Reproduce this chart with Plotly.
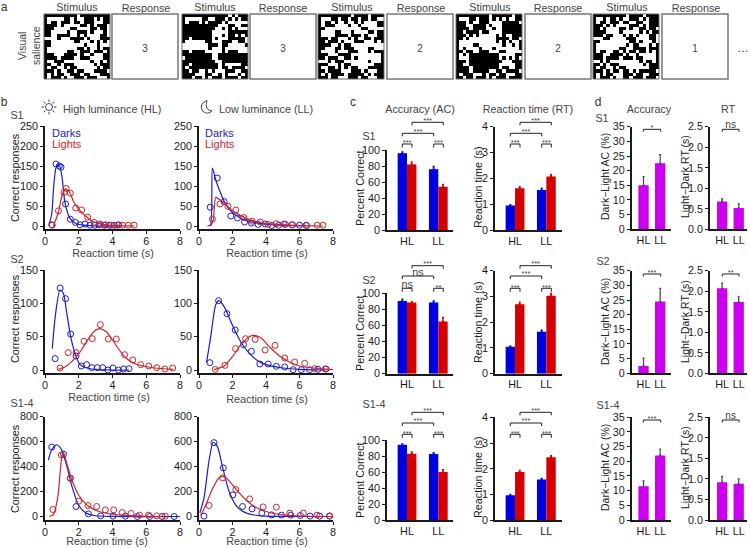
import plotly.graph_objects as go

W, H = 750, 548
FONT = "Liberation Sans"
BLUE, RED, MAG = "#0000e0", "#d40000", "#cc00ee"
LBLUE, LRED = "#1c1cc8", "#c8242c"
DARK, GRAY = "#1a1a1a", "#444444"

# ---------- panel a : stimulus patterns (# = black) ----------
stim1 = [
"##########.#########","#.....##.#..###.#.##","#.##.###.##.###...##","####.#.....##.#.###.",
"###.....##....##.##.","##.....#..###.#...#.","##..####..#.#....##.","....#...####.#...###",
"##.......##...#.#.#.","##..........#...#...","#.........##.#..#.##","#......##..###.###.#",
"###...####.#..#...##","####.####..###....##","#..###........#..#.#","##..#.###......#.###",
"#.##..#.##......#.##","###.#..##.##...####.","#.#.##..###.##...###","#.###.#..###.###...#"]
stim2 = [
"##############.#.###","#.....##..###.#.#.##","#.###.#.####.#......","###########...##..##",
"##########..#.#.#...","#########.....######","#########...#.##.#.#","##.######.#...#####.",
"#......##...###..##.","........###.##.....#","........#...#.......","##.####.....#.###...",
"#########..#########",".########..#########","##########..########","##.########.#.....##",
"#.#########.##.####.","##.##..#.#...###..##","####...##..#.#...#.#","###.##.#.###.####.##"]
stim3 = [
"##########.####.####","#...##.##.##.##.##..","#.##.#..#..#.#....##","#.###....#..#.....##",
"##...........##.....","#....##...#....##.##","#....####.###.#...##","###.##...#.#..##.###",
"##.###.#...###...#.#","####..#.##..........","##...##.###....##...","#....#...###...#.###",
"###...####.........#","##.###..##.#.......#","...#.###.......#...#","###...#.##.......###",
"#..##.#.#.##...#####","##.####...###.#...##","#.#.####.#####.#.###","###.##...###.##...##"]
stim4 = [
"##########.######.##","#...##.###.#.#.#..##","###.#..###....#####.","###..####.#...######",
"####.####..#..######","##.####.##....######","###.#.#.....#.#..###","##.#........####.##.",
"#...........#.#.#..#","#....##.......#..#.#","#.#....#...#.......#","##.##..###...##.....",
"#.#.#########.....##","#...#########.#.#.#.","###.##########...###","##..#########.....##",
"####.########.##..##","####.#####..##.####.","#.###...#.##.##...##","##.##.###.#.###.####"]
stim5 = [
"##########.####.####","#..#.##.#..###.#.###","#.##.###.##..##..###","###.#.#....###.#.###",
"##.#....##.#..##.##.","####....#.....#.#.##","###.##...#.#.#...##.","...##.....###....##.",
"##.........##.#...#.","#.........#.##...#.#","#.......##..####.###","#.##..##.#.##.##.#.#",
"###..####.#..#.....#","###.####.###.##....#","..#.#.........#.##.#","##.#.###.......#.###",
"#.##..#.##.......###","###.#.##.##.#.#####.","#.#.##...###.##..###","#.###.#..##.###.###."]
stim_patterns = [stim1, stim2, stim3, stim4, stim5]
response_digits = ["3", "3", "2", "2", "1"]

# ---------- panel b : reaction time distributions ----------
s1_hl_dark_x = [0.4, 0.65, 0.85, 0.95, 1.22, 1.5, 1.8, 2.07, 2.37, 2.67, 2.95, 3.2, 3.5, 3.8, 4.1, 4.37]
s1_hl_dark_y = [3, 155, 150, 147, 55, 17, 9, 3, 5, 2, 2, 3, 2, 2, 2, 3]
s1_hl_dark_cx = [0.25, 0.4, 0.5, 0.65, 0.83, 1.0, 1.19, 1.48, 1.88, 2.3, 3.0, 4.4]
s1_hl_dark_cy = [5, 30, 90, 145, 155, 125, 57, 19, 5, 2, 0, 0]
s1_hl_light_x = [0.43, 0.8, 1.13, 1.25, 1.5, 1.82, 2.17, 2.53, 2.9, 3.25, 3.6, 3.93, 4.27, 4.6, 4.94, 5.28]
s1_hl_light_y = [2, 38, 84, 94, 82, 45, 40, 22, 9, 5, 3, 2, 2, 2, 2, 2]
s1_hl_light_cx = [0.5, 0.8, 1.0, 1.2, 1.45, 1.7, 2.0, 2.4, 2.8, 3.2, 3.6, 4.2, 5.3]
s1_hl_light_cy = [0, 35, 75, 93, 85, 60, 42, 25, 12, 6, 3, 1, 0]

s1_ll_dark_x = [0.67, 1.09, 1.5, 1.9, 2.3, 2.72, 3.13, 3.53, 3.95, 4.35, 4.76, 5.16, 5.58, 6.0, 6.4]
s1_ll_dark_y = [47, 120, 61, 25, 20, 10, 7, 4, 5, 1, 2, 4, 3, 2, 2]
s1_ll_dark_cx = [0.5, 0.68, 0.8, 1.0, 1.2, 1.5, 1.8, 2.2, 2.8, 3.5, 4.5, 6.4]
s1_ll_dark_cy = [0, 2, 145, 115, 92, 62, 42, 27, 14, 7, 3, 1]
s1_ll_light_x = [0.8, 1.25, 1.73, 2.2, 2.68, 3.17, 3.65, 4.13, 4.6, 5.05, 5.55, 6.43, 7.06, 7.4]
s1_ll_light_y = [17, 55, 49, 40, 21, 12, 10, 4, 6, 5, 3, 1, 2, 2]
s1_ll_light_cx = [0.7, 0.85, 1.0, 1.15, 1.5, 2.0, 2.5, 3.0, 3.5, 4.0, 5.0, 6.0, 7.4]
s1_ll_light_cy = [0, 15, 72, 68, 58, 38, 26, 16, 10, 6, 3, 1, 0]

s2_hl_dark_x = [0.6, 0.9, 1.22, 1.52, 1.84, 2.15, 2.47, 2.77, 3.1, 3.42, 3.72, 4.03, 4.35, 4.66, 4.98]
s2_hl_dark_y = [17, 123, 107, 54, 21, 6, 8, 3.5, 3.5, 3.5, 0, 3, 0, 1.5, 2]
s2_hl_dark_cx = [0.43, 0.63, 0.89, 1.09, 1.28, 1.52, 1.78, 2.07, 2.47, 3, 4, 5]
s2_hl_dark_cy = [32, 85, 120, 115, 87, 50, 25, 8, 3, 1, 0, 0]
s2_hl_light_x = [0.89, 1.38, 1.84, 2.31, 2.8, 3.28, 3.75, 4.23, 4.72, 5.2, 5.67, 6.15, 6.62, 7.1, 7.57]
s2_hl_light_y = [3, 26, 26, 43, 47, 68, 46.5, 46.5, 23, 15, 8, 6, 3.5, 1.5, 3]
s2_hl_light_cx = [0.8, 1.2, 1.6, 2, 2.4, 2.8, 3.2, 3.6, 4, 4.4, 4.8, 5.2, 5.8, 6.5, 7.6]
s2_hl_light_cy = [1, 5, 13, 24, 40, 55, 62, 58, 45, 30, 18, 11, 6, 3, 1]

s2_ll_dark_x = [0.65, 1.17, 1.67, 2.16, 2.66, 3.13, 3.63, 4.13, 4.62, 5.12, 5.62, 6.11, 6.6, 7.1, 7.58]
s2_ll_dark_y = [11, 104, 84.5, 60, 38, 28, 9, 9, 5.5, 4.5, 0.5, 0.5, 0.5, 1, 1.5]
s2_ll_dark_cx = [0.45, 0.7, 1.0, 1.2, 1.5, 2, 2.5, 3, 3.5, 4, 5, 6, 7.6]
s2_ll_dark_cy = [11, 50, 98, 104, 95, 67, 42, 25, 14, 8, 3, 1, 0]
s2_ll_light_x = [0.97, 1.55, 2.18, 2.78, 3.35, 3.95, 4.54, 5.12, 5.71, 6.31, 6.9, 7.54]
s2_ll_light_y = [1, 7, 32, 47, 46, 30, 37, 18, 12, 10, 2, 1.5]
s2_ll_light_cx = [0.9, 1.5, 2, 2.5, 3, 3.3, 3.7, 4.2, 4.8, 5.4, 6, 6.8, 8]
s2_ll_light_cy = [0.5, 6, 20, 38, 50, 52, 48, 35, 21, 12, 6, 3, 0.5]

all_hl_dark_x = [0.4, 1.1, 1.5, 1.84, 2.57, 3.3, 4.03, 4.76, 5.47, 6.2, 6.94, 7.65]
all_hl_dark_y = [557, 500, 307, 80, 21, 5, 3, 3, 0, 0, 0, 0]
all_hl_dark_cx = [0.2, 0.4, 0.7, 1.0, 1.3, 1.6, 2, 2.4, 3, 4, 8]
all_hl_dark_cy = [453, 535, 575, 530, 400, 240, 90, 30, 6, 1, 0]
all_hl_light_x = [0.47, 0.97, 1.5, 2, 2.55, 3.06, 3.58, 4.07, 4.58, 5.1, 5.6, 6.13, 6.62, 7.13]
all_hl_light_y = [56, 493, 307, 123, 88, 80, 53, 53, 32, 24, 11, 11, 5, 3]
all_hl_light_cx = [0.25, 0.5, 0.75, 1.0, 1.1, 1.3, 1.6, 2, 2.5, 3, 3.5, 4, 5, 6, 7.1]
all_hl_light_cy = [0, 15, 150, 480, 510, 420, 290, 170, 90, 50, 30, 18, 7, 2, 0]

all_ll_dark_x = [0.3, 0.89, 1.45, 2.02, 2.6, 3.17, 3.75, 4.33, 4.92, 5.48, 6.05, 6.63, 7.2, 7.8]
all_ll_dark_y = [3, 592, 390, 173, 80, 61, 27, 13, 11, 11, 8, 3, 3, 3]
all_ll_dark_cx = [0.05, 0.3, 0.6, 0.85, 1.1, 1.4, 1.8, 2.2, 2.7, 3.3, 4, 8]
all_ll_dark_cy = [30, 150, 450, 595, 560, 400, 200, 90, 35, 12, 3, 0]
all_ll_light_x = [0.6, 1.41, 2.2, 3.02, 3.83, 4.62, 5.42, 6.23, 7.04, 7.8]
all_ll_light_y = [88, 309, 216, 141, 77, 75, 27, 27, 11, 5]
all_ll_light_cx = [0.1, 0.4, 0.8, 1.2, 1.5, 1.9, 2.4, 3, 3.6, 4.2, 5, 6, 8]
all_ll_light_cy = [10, 90, 220, 310, 320, 270, 190, 110, 60, 32, 13, 4, 0]

# ---------- panel c : bars ----------
conditions = ["HL", "LL"]
s1_ac_dark, s1_ac_dark_err, s1_ac_light, s1_ac_light_err = [96, 76], [1.5, 3.5], [82, 54], [3, 3]
s1_rt_dark, s1_rt_dark_err, s1_rt_light, s1_rt_light_err = [0.95, 1.55], [0.03, 0.07], [1.62, 2.07], [0.05, 0.08]
s2_ac_dark, s2_ac_dark_err, s2_ac_light, s2_ac_light_err = [90.5, 88.5], [2, 2], [88.5, 65], [1, 5]
s2_rt_dark, s2_rt_dark_err, s2_rt_light, s2_rt_light_err = [1.05, 1.63], [0.03, 0.06], [2.7, 3.03], [0.07, 0.08]
all_ac_dark, all_ac_dark_err, all_ac_light, all_ac_light_err = [94, 82.5], [1, 1.5], [83, 60], [2, 3]
all_rt_dark, all_rt_dark_err, all_rt_light, all_rt_light_err = [0.97, 1.58], [0.03, 0.04], [1.88, 2.45], [0.05, 0.06]

# ---------- panel d : differences ----------
s1_dac, s1_dac_err, s1_drt, s1_drt_err = [15, 22.5], [3, 3], [0.68, 0.52], [0.06, 0.1]
s2_dac, s2_dac_err, s2_drt, s2_drt_err = [2.5, 24.5], [2.7, 4.5], [2.07, 1.74], [0.13, 0.12]
all_dac, all_dac_err, all_drt, all_drt_err = [11.5, 22], [1.8, 2.2], [0.92, 0.88], [0.14, 0.12]

# ---------- helpers ----------
fig = go.Figure()
layout = {}
shapes, annots = [], []
labels = []
axis_n = [0]


def px(x):
    return x / W


def py(y):
    return 1 - y / H


def new_axes(x0, x1, ytop, ybot, xaxis, yaxis):
    axis_n[0] += 1
    n = axis_n[0]
    sfx = "" if n == 1 else str(n)
    xaxis = dict(domain=[px(x0), px(x1)], anchor="y" + sfx, **xaxis)
    yaxis = dict(domain=[py(ybot), py(ytop)], anchor="x" + sfx, **yaxis)
    layout["xaxis" + sfx] = xaxis
    layout["yaxis" + sfx] = yaxis
    return "x" + sfx, "y" + sfx


def T(x, y, text, size=10.8, color=GRAY, anchor="center", angle=0):
    if angle:
        annots.append(dict(x=px(x), y=py(y), xref="paper", yref="paper", text=text, showarrow=False,
                           xanchor="center", yanchor="middle", textangle=angle,
                           font=dict(size=size, color=color, family=FONT)))
    else:
        labels.append((x, y, text, size, color, anchor))


def bracket(x0, x1, ytop, leg, label, lab_size=7.5, lab_dy=3):
    p = f"M {px(x0)} {py(ytop + leg)} L {px(x0)} {py(ytop)} L {px(x1)} {py(ytop)} L {px(x1)} {py(ytop + leg)}"
    shapes.append(dict(type="path", path=p, xref="paper", yref="paper", line=dict(color="#222", width=1)))
    T((x0 + x1) / 2, ytop - lab_dy - 2.5, label, size=lab_size, color=GRAY)


AX = dict(showline=True, linecolor=DARK, linewidth=1.5, showgrid=False, zeroline=False, tickangle=0,
          tickfont=dict(size=10.8, color=DARK, family=FONT), tickcolor=DARK, tickwidth=1.2)
XSHIFT = dict(ticklabelstandoff=-2)

# ---------- panel a ----------
stim_left = [44, 182, 318, 456, 593]
resp_left = [112, 250, 387, 525, 662]
stim_lab = [77, 215, 352, 490, 627]
resp_lab = [146, 283, 421, 558, 696]
for i, pat in enumerate(stim_patterns):
    xa, ya = new_axes(stim_left[i], stim_left[i] + 66, 14, 79,
                      dict(range=[-0.5, 19.5], visible=False),
                      dict(range=[19.5, -0.5], visible=False))
    z = [[0 if c == "#" else 1 for c in r.ljust(20, ".")[:20]] for r in pat]
    fig.add_trace(go.Heatmap(z=z, xaxis=xa, yaxis=ya, showscale=False, hoverinfo="skip", zmin=0, zmax=1,
                             colorscale=[[0, "black"], [1, "white"]]))
    shapes.append(dict(type="rect", xref="paper", yref="paper", x0=px(stim_left[i]), x1=px(stim_left[i] + 66),
                       y0=py(14), y1=py(79), line=dict(color="#666", width=1)))
    shapes.append(dict(type="rect", xref="paper", yref="paper", x0=px(resp_left[i]), x1=px(resp_left[i] + 66),
                       y0=py(14), y1=py(79), line=dict(color="#777", width=1.5)))
    T(resp_left[i] + 33, 46.5, response_digits[i], size=10, color=GRAY)
    T(stim_lab[i], 5, "Stimulus", size=10.8)
    T(resp_lab[i], 6, "Response", size=10.8)
T(29, 46, "Visual<br>salience", size=10.5, angle=-90)
T(743, 46, "...", size=13, color="#555")
T(4, 5, "a", size=12, color="#333")


# ---------- panel b ----------
def rt_panel(x0, x1, ytop, ybot, ymin, ymax, dtick, data):
    xa, ya = new_axes(x0, x1, ytop, ybot,
                      dict(range=[0, 8], tickvals=[0, 2, 4, 6, 8], ticks="outside", ticklen=3, **XSHIFT, **AX),
                      dict(range=[ymin, ymax], tick0=0, dtick=dtick, ticks="outside", ticklen=3, **AX))
    for (sx, sy, cx, cy), col in zip(data, (LBLUE, LRED)):
        fig.add_trace(go.Scatter(x=cx, y=cy, xaxis=xa, yaxis=ya, mode="lines", hoverinfo="skip",
                                 line=dict(color=col, width=1.2, shape="spline", smoothing=0.7)))
        fig.add_trace(go.Scatter(x=sx, y=sy, xaxis=xa, yaxis=ya, mode="markers", hoverinfo="skip", cliponaxis=False,
                                 marker=dict(symbol="circle-open", size=6, color=col, line=dict(width=1, color=col))))


L0, L1, R0, R1 = 45, 180, 199, 333
rt_panel(L0, L1, 126, 229, -7.5, 250, 50,
         [(s1_hl_dark_x, s1_hl_dark_y, s1_hl_dark_cx, s1_hl_dark_cy),
          (s1_hl_light_x, s1_hl_light_y, s1_hl_light_cx, s1_hl_light_cy)])
rt_panel(R0, R1, 126, 229, -7.5, 250, 50,
         [(s1_ll_dark_x, s1_ll_dark_y, s1_ll_dark_cx, s1_ll_dark_cy),
          (s1_ll_light_x, s1_ll_light_y, s1_ll_light_cx, s1_ll_light_cy)])
rt_panel(L0, L1, 270, 373, -4.5, 150, 50,
         [(s2_hl_dark_x, s2_hl_dark_y, s2_hl_dark_cx, s2_hl_dark_cy),
          (s2_hl_light_x, s2_hl_light_y, s2_hl_light_cx, s2_hl_light_cy)])
rt_panel(R0, R1, 270, 373, -4.5, 150, 50,
         [(s2_ll_dark_x, s2_ll_dark_y, s2_ll_dark_cx, s2_ll_dark_cy),
          (s2_ll_light_x, s2_ll_light_y, s2_ll_light_cx, s2_ll_light_cy)])
rt_panel(L0, L1, 416.7, 520, -28, 800, 200,
         [(all_hl_dark_x, all_hl_dark_y, all_hl_dark_cx, all_hl_dark_cy),
          (all_hl_light_x, all_hl_light_y, all_hl_light_cx, all_hl_light_cy)])
rt_panel(R0, R1, 416.7, 520, -28, 800, 200,
         [(all_ll_dark_x, all_ll_dark_y, all_ll_dark_cx, all_ll_dark_cy),
          (all_ll_light_x, all_ll_light_y, all_ll_light_cx, all_ll_light_cy)])

T(4, 100, "b", size=12, color="#333")
T(17, 113, "S1", size=10.8)
T(63, 107, "High luminance (HL)", anchor="left")
T(219, 107, "Low luminance (LL)", anchor="left")
T(17, 257, "S2", size=10.8)
T(22, 401, "S1-4", size=10.8)
for x_ in (52, 205):
    T(x_, 131.5, "Darks", size=11, color=LBLUE, anchor="left")
    T(x_, 142, "Lights", size=11, color=LRED, anchor="left")
for y_ in (178, 319, 469):
    T(15, y_, "Correct responses", size=10.8, color="#222", angle=-90)
T(113, 251, "Reaction time (s)")
T(267, 251, "Reaction time (s)")
T(109, 395, "Reaction time (s)")
T(267, 397, "Reaction time (s)")
T(107, 539, "Reaction time (s)")
T(267, 539, "Reaction time (s)")

# sun icon
sx_, sy_ = 49, 107
shapes.append(dict(type="circle", xref="paper", yref="paper", x0=px(sx_ - 3.5), x1=px(sx_ + 3.5),
                   y0=py(sy_ + 3.5), y1=py(sy_ - 3.5), line=dict(color="#444", width=1)))
for dx, dy in ((0, -1), (0.7, -0.7), (1, 0), (0.7, 0.7), (0, 1), (-0.7, 0.7), (-1, 0), (-0.7, -0.7)):
    shapes.append(dict(type="line", xref="paper", yref="paper", x0=px(sx_ + 5 * dx), x1=px(sx_ + 7.5 * dx),
                       y0=py(sy_ + 5 * dy), y1=py(sy_ + 7.5 * dy), line=dict(color="#444", width=1)))
# moon icon
mx, my = 207, 107
shapes.append(dict(type="path", xref="paper", yref="paper", line=dict(color="#444", width=1),
                   path=(f"M {px(mx)} {py(my - 6.5)} Q {px(mx - 9)} {py(my - 3)} {px(mx - 4)} {py(my + 4.5)} "
                         f"Q {px(mx + 1)} {py(my + 8)} {px(mx + 5)} {py(my + 4)} "
                         f"Q {px(mx - 3)} {py(my + 3)} {px(mx)} {py(my - 6.5)} Z")))


# ---------- panel c ----------
def pair_bars(x0, x1, ytop, ybot, ymax, dtick, dark, dark_err, light, light_err, xlo, xhi):
    xa, ya = new_axes(x0, x1, ytop, ybot,
                      dict(type="category", categoryarray=conditions, range=[xlo, xhi], ticks="", **AX),
                      dict(range=[0, ymax], tick0=0, dtick=dtick, ticks="outside", ticklen=3, **AX))
    for vals, errs, col in ((dark, dark_err, BLUE), (light, light_err, RED)):
        fig.add_trace(go.Bar(x=conditions, y=vals, xaxis=xa, yaxis=ya, marker=dict(color=col, line=dict(width=0)),
                             hoverinfo="skip", error_y=dict(type="data", symmetric=False, array=errs,
                                                            arrayminus=[0, 0], color=col, thickness=1.5, width=1)))


def c_brackets(xl, y_inner, y_mid, y_top, left_lab="***", mid_lab="***", top_lab="***", right_lab="***"):
    a, b_, c_, d_ = xl, xl + 9.7, xl + 31.4, xl + 41
    ls = 7.5 if left_lab == "***" else 10.8
    bracket(a, b_, y_inner, 3.5, left_lab, lab_size=ls, lab_dy=1 if ls < 8 else 3.5)
    bracket(c_, d_, y_inner, 3.5, right_lab, lab_size=7.5, lab_dy=1)
    ms = 7.5 if mid_lab == "***" else 10.8
    bracket(a, c_, y_mid, 3, mid_lab, lab_size=ms, lab_dy=2 if ms < 8 else 3.5)
    bracket(b_, d_, y_top, 3, top_lab, lab_size=7.5, lab_dy=2)


AC_X, RT_X = (387, 453), (495, 562)
pair_bars(*AC_X, 150, 230, 100, 20, s1_ac_dark, s1_ac_dark_err, s1_ac_light, s1_ac_light_err, -0.64, 1.47)
pair_bars(*RT_X, 126.7, 230, 4, 1, s1_rt_dark, s1_rt_dark_err, s1_rt_light, s1_rt_light_err, -0.64, 1.5)
pair_bars(*AC_X, 293.3, 373.7, 100, 20, s2_ac_dark, s2_ac_dark_err, s2_ac_light, s2_ac_light_err, -0.64, 1.47)
pair_bars(*RT_X, 270.7, 373.7, 4, 1, s2_rt_dark, s2_rt_dark_err, s2_rt_light, s2_rt_light_err, -0.64, 1.5)
pair_bars(*AC_X, 440, 520.3, 100, 20, all_ac_dark, all_ac_dark_err, all_ac_light, all_ac_light_err, -0.64, 1.47)
pair_bars(*RT_X, 417.3, 520.3, 4, 1, all_rt_dark, all_rt_dark_err, all_rt_light, all_rt_light_err, -0.64, 1.5)

c_brackets(402.3, 144, 133.3, 122.3)
c_brackets(510.3, 144, 133.3, 122.3)
c_brackets(402.3, 288.3, 276, 265.7, left_lab="ns", right_lab="**", mid_lab="ns")
c_brackets(510.3, 288.3, 276, 265.7)
c_brackets(402.3, 434.3, 423, 412.3)
c_brackets(510.3, 434.3, 423, 412.3)

T(353, 100, "c", size=12, color="#333")
T(420, 107, "Accuracy (AC)")
T(528, 107, "Reaction time (RT)")
T(369, 134, "S1")
T(369, 278, "S2")
T(374, 402, "S1-4")
for y_ in (188, 333, 480):
    T(360, y_, "Percent Correct", color="#222", angle=-90)
for y_ in (187, 322, 477):
    T(478, y_, "Reaction time (s)", color="#222", angle=-90)


# ---------- panel d ----------
def diff_bars(x0, x1, ytop, ybot, ymax, dtick, vals, errs, xlo, xhi, fmt=None):
    ytick = dict(range=[0, ymax], tick0=0, dtick=dtick, ticks="outside", ticklen=3, **AX)
    if fmt:
        ytick["tickformat"] = fmt
    xa, ya = new_axes(x0, x1, ytop, ybot,
                      dict(type="category", categoryarray=conditions, range=[xlo, xhi], ticks="", **AX), ytick)
    fig.add_trace(go.Bar(x=conditions, y=vals, width=0.62, xaxis=xa, yaxis=ya, hoverinfo="skip",
                         marker=dict(color=MAG, line=dict(width=0)),
                         error_y=dict(type="data", symmetric=False, array=errs, arrayminus=[0, 0],
                                      color="#4a3a55", thickness=1.2, width=1)))


DA, DR = (631.7, 671), (710, 747)
for (yt, yb), ac, ace, rt, rte in (((126.7, 229.3), s1_dac, s1_dac_err, s1_drt, s1_drt_err),
                                   ((270.7, 373.3), s2_dac, s2_dac_err, s2_drt, s2_drt_err),
                                   ((417.3, 520), all_dac, all_dac_err, all_drt, all_drt_err)):
    diff_bars(*DA, yt, yb, 35, 5, ac, ace, -0.71, 1.65)
    diff_bars(*DR, yt, yb, 2.5, 0.5, rt, rte, -0.73, 1.5, fmt=".1f")

bracket(643.3, 660.7, 129.3, 2.5, "*", lab_dy=2)
bracket(722.3, 739, 129.3, 2.5, "ns", lab_size=10, lab_dy=4)
bracket(643.3, 660.7, 274, 2.5, "***", lab_dy=1)
bracket(722.3, 739, 274, 2.5, "**", lab_dy=1)
bracket(643.3, 660.7, 420, 2.5, "***", lab_dy=1)
bracket(722.3, 739, 420, 2.5, "ns", lab_size=10, lab_dy=4)

T(598, 100, "d", size=12, color="#333")
T(649, 107, "Accuracy")
T(728, 107, "RT")
T(602, 116, "S1")
T(603, 259, "S2")
T(608, 403, "S1-4")
for y_ in (177, 322, 468):
    T(605, y_, "Dark\u2212Light AC (%)", size=10.5, color="#222", angle=-90)
    T(685, y_, "Light\u2212Dark RT (s)", size=10.5, color="#222", angle=-90)

# ---------- text layer : a transparent full-page axis in picture pixels ----------
TEXT_DY = 3
xa, ya = new_axes(0, W, 0, H, dict(range=[0, W], visible=False), dict(range=[H, 0], visible=False))
for x_, y_, txt, sz, col, anc in labels:
    fig.add_trace(go.Scatter(x=[x_], y=[y_ + TEXT_DY], text=[txt], xaxis=xa, yaxis=ya, mode="text", hoverinfo="skip",
                             cliponaxis=False, textposition="middle center" if anc == "center" else "middle right",
                             textfont=dict(size=sz, color=col, family=FONT)))

fig.update_layout(width=W, height=H, autosize=False, margin=dict(l=0, r=0, t=0, b=0, pad=0, autoexpand=False),
                  paper_bgcolor="rgba(255,255,255,1)", plot_bgcolor="rgba(0,0,0,0)", showlegend=False,
                  barmode="group", bargap=0.4, bargroupgap=0, shapes=shapes, annotations=annots,
                  font=dict(family=FONT), **layout)
fig.write_html("out.html", post_script="document.body.style.margin='0';",
               config=dict(displayModeBar=False))
